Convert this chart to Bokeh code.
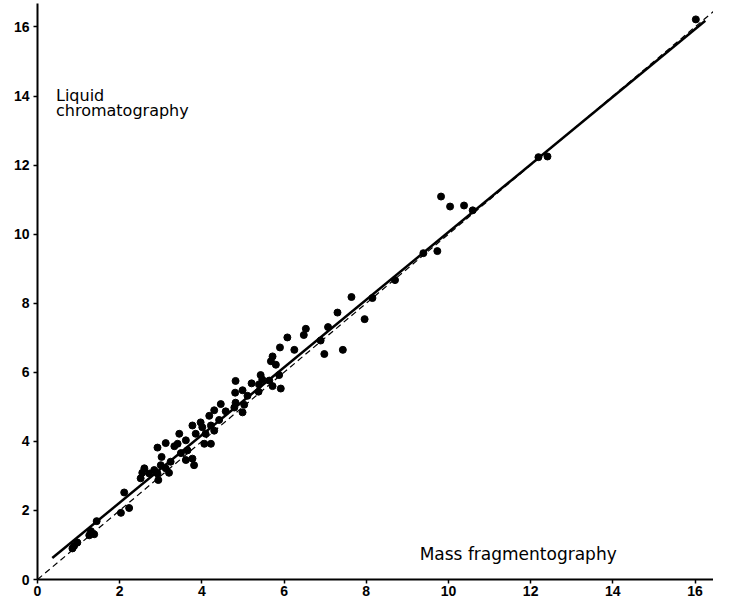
from bokeh.plotting import figure
from bokeh.models import Range1d, FixedTicker, Label
from bokeh.embed import file_html
from bokeh.resources import INLINE

# Mass fragmentography (x) vs liquid chromatography (y)
mass_frag = [16.02, 12.19, 12.41, 9.82, 10.04, 10.38, 10.59, 9.73, 9.39, 8.70,
             8.15, 7.64, 7.96, 7.30, 7.07, 6.53, 6.48, 6.89, 6.98, 7.43,
             6.25, 6.08, 5.90, 5.72, 5.68, 5.80, 5.88, 5.43, 5.47, 5.64,
             5.72, 5.39, 5.92, 5.21, 5.38, 4.82, 4.81, 4.99, 5.11, 4.82,
             5.03, 4.99, 4.79, 4.46, 4.30, 4.58, 4.42, 4.18, 3.97, 3.77,
             4.01, 4.22, 4.30, 4.09, 3.85, 4.06, 4.22, 3.45, 3.41, 3.61,
             3.65, 3.61, 3.77, 3.81, 3.12, 2.92, 3.33, 3.49, 3.02, 3.24,
             3.00, 2.60, 2.55, 2.72, 2.84, 2.92, 3.12, 3.20, 2.94, 2.51,
             2.11, 2.03, 2.23, 1.44, 1.30, 1.38, 1.26, 0.97, 0.89, 0.85]
liquid_chrom = [16.22, 12.23, 12.25, 11.09, 10.80, 10.83, 10.69, 9.51, 9.45, 8.67,
                8.15, 8.18, 7.54, 7.73, 7.31, 7.26, 7.08, 6.92, 6.53, 6.65,
                6.65, 7.01, 6.72, 6.46, 6.32, 6.22, 5.92, 5.92, 5.79, 5.76,
                5.60, 5.65, 5.53, 5.68, 5.44, 5.75, 5.41, 5.48, 5.32, 5.12,
                5.06, 4.84, 4.98, 5.08, 4.90, 4.87, 4.62, 4.74, 4.55, 4.46,
                4.41, 4.46, 4.31, 4.22, 4.22, 3.93, 3.93, 4.22, 3.93, 4.03,
                3.74, 3.46, 3.50, 3.31, 3.95, 3.82, 3.86, 3.66, 3.55, 3.41,
                3.31, 3.22, 3.09, 3.07, 3.17, 3.07, 3.22, 3.09, 2.88, 2.93,
                2.52, 1.93, 2.07, 1.69, 1.40, 1.31, 1.28, 1.07, 0.97, 0.90]

# regression line (solid) and line of identity (dashed)
fit_x = [0.36, 16.25]
fit_y = [0.62, 16.18]
ident_x = [0.0, 16.45]
ident_y = [0.0, 16.45]

ticks = [0, 2, 4, 6, 8, 10, 12, 14, 16]

p = figure(width=713, height=598, output_backend="svg", toolbar_location=None,
           x_range=Range1d(0, 16.45), y_range=Range1d(0, 16.68),
           min_border_left=37, min_border_right=0, min_border_top=3,
           min_border_bottom=0)
p.grid.visible = False
p.outline_line_color = None
p.background_fill_color = "white"

for ax in (p.xaxis[0], p.yaxis[0]):
    ax.ticker = FixedTicker(ticks=ticks)
    ax.minor_tick_line_color = None
    ax.axis_line_width = 2
    ax.axis_line_color = "black"
    ax.major_tick_line_width = 1.5
    ax.major_tick_line_color = "black"
    ax.major_tick_out = 4
    ax.major_tick_in = 0
    ax.major_label_text_font = "Liberation Sans"
    ax.major_label_text_font_style = "bold"
    ax.major_label_text_font_size = "14px"
    ax.major_label_text_color = "black"
p.xaxis.major_label_standoff = 2
p.yaxis.major_label_standoff = 4

p.line(ident_x, ident_y, line_color="black", line_width=1.2, line_dash="6 4")
p.line(fit_x, fit_y, line_color="black", line_width=2.5)
p.scatter(mass_frag, liquid_chrom, size=7, fill_color="black", line_color="black")

p.add_layout(Label(x=0.45, y=13.75, text="Liquid", text_font="DejaVu Sans",
                   text_font_size="16px", text_color="black"))
p.add_layout(Label(x=0.45, y=13.3, text="chromatography", text_font="DejaVu Sans",
                   text_font_size="16px", text_color="black"))
p.add_layout(Label(x=9.3, y=0.45, text="Mass  fragmentography", text_font="DejaVu Sans",
                   text_font_size="17px", text_color="black"))

open("out.html", "w").write(file_html(p, INLINE))
